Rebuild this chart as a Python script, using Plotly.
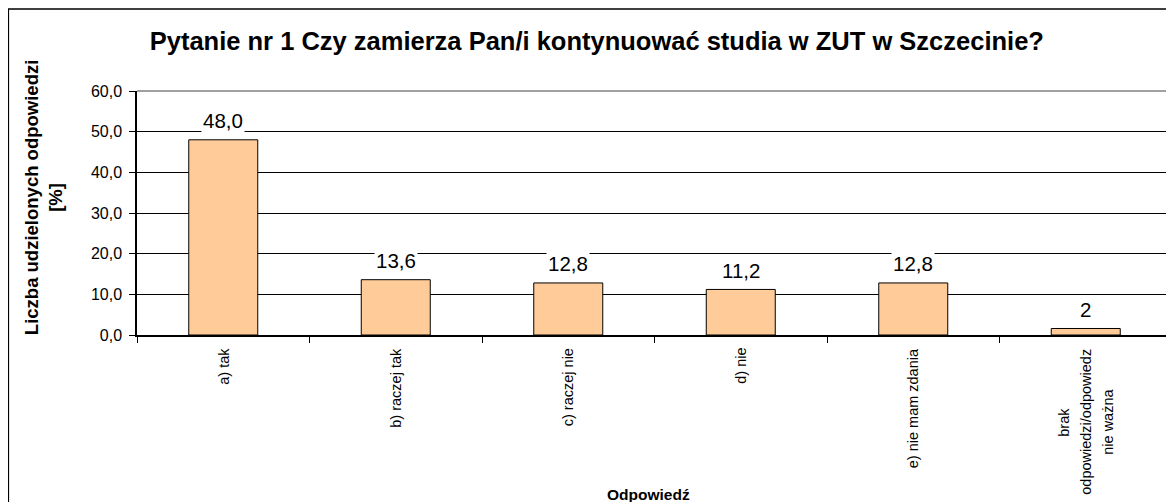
import plotly.graph_objects as go

categories = ["a) tak", "b) raczej tak", "c) raczej nie", "d) nie", "e) nie mam zdania",
              "brak<br>odpowiedzi/odpowiedz<br>nie ważna"]
values = [48.0, 13.6, 12.8, 11.2, 12.8, 1.6]
value_labels = ["48,0", "13,6", "12,8", "11,2", "12,8", "2"]

fnt = "Liberation Sans, Arial, sans-serif"

fig = go.Figure()
fig.add_trace(go.Bar(
    x=categories, y=values,
    marker=dict(color="#FFCC99", line=dict(color="black", width=1)),
    hoverinfo="skip",
))

# data labels with white background (they cut through the gridlines)
for c, v, t in zip(categories, values, value_labels):
    fig.add_annotation(x=c, y=v, text=t, showarrow=False, yanchor="middle", yshift=19,
                       bgcolor="white", font=dict(family=fnt, size=20.5, color="black"))

# category labels, rotated, centred under each bar
for c in categories:
    lines = c.split("<br>")
    if len(lines) == 1:
        fig.add_annotation(x=c, xref="x", y=0, yref="paper", text=c, showarrow=False,
                           textangle=-90, xanchor="center", yanchor="top", yshift=-11,
                           font=dict(family=fnt, size=14.5, color="black"))
    else:
        # multi-line label: wider line spacing, lines centred on each other
        for i, ln in enumerate(lines):
            fig.add_annotation(x=c, xref="x", y=0, yref="paper", text=ln, showarrow=False,
                               textangle=-90, xanchor="center", yanchor="middle",
                               xshift=(i - (len(lines) - 1) / 2) * 22, yshift=-87,
                               font=dict(family=fnt, size=14.5, color="black"))

# outer frame of the chart
fig.add_shape(type="rect", xref="paper", yref="paper", x0=-0.1243, x1=1.05, y0=-1.0, y1=1.336,
              line=dict(color="black", width=1.5), layer="below")

# axis titles
fig.add_annotation(xref="paper", yref="paper", x=-0.0908, y=0.561, textangle=-90, showarrow=False,
                   xanchor="center", yanchor="middle",
                   text="<b>Liczba udzielonych odpowiedzi<br>[%]</b>",
                   font=dict(family=fnt, size=18.5, color="black"))
fig.add_annotation(xref="paper", yref="paper", x=0.494, y=-0.652, showarrow=False,
                   xanchor="center", yanchor="middle",
                   text="<b>Odpowiedź</b>", font=dict(family=fnt, size=15.5, color="black"))

fig.update_layout(
    width=1166, height=494,
    margin=dict(l=129, r=2, t=83, b=167),
    paper_bgcolor="white", plot_bgcolor="white",
    separators=",.",
    bargap=0.6,
    showlegend=False,
    font=dict(family=fnt, color="black"),
    title=dict(text="<b>Pytanie nr 1 Czy zamierza Pan/i kontynuować studia w ZUT w Szczecinie?</b>",
               x=0.505, xref="container", xanchor="center", y=0.933, yref="container", yanchor="middle",
               font=dict(family=fnt, size=25.5, color="black")),
)
fig.update_xaxes(
    automargin=False, showticklabels=False,
    showline=True, linecolor="black", linewidth=1.5, mirror=False,
    ticks="outside", tickson="boundaries", ticklen=6, tickcolor="black",
)
fig.update_yaxes(
    automargin=False,
    range=[0, 60], dtick=10, tickformat=".1f",
    tickfont=dict(family=fnt, size=16),
    showline=True, linecolor="black", linewidth=1.5,
    ticks="outside", ticklen=6, tickcolor="black", ticklabelstandoff=4,
    showgrid=True, gridcolor="black", gridwidth=1,
    zeroline=False,
)
# gray top/right border of plot area
fig.add_shape(type="line", xref="paper", yref="paper", x0=0, x1=1, y0=1, y1=1,
              line=dict(color="#808080", width=1.5))
fig.add_shape(type="line", xref="paper", yref="paper", x0=1, x1=1, y0=0, y1=1,
              line=dict(color="#808080", width=1.5))

fig.write_html("out.html")
